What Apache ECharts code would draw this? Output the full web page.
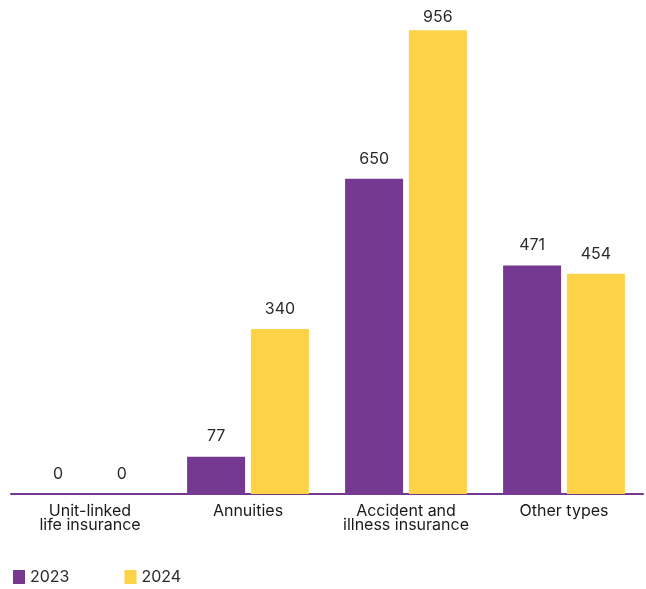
<!DOCTYPE html>
<html>
<head>
<meta charset="utf-8">
<script src="https://cdn.jsdelivr.net/npm/echarts@6/dist/echarts.min.js"></script>
<style>html,body{margin:0;padding:0;background:#fff}#c{width:646px;height:589px}</style>
</head>
<body>
<div id="c"></div>
<script>
const categories = ['Unit-linked\nlife insurance', 'Annuities', 'Accident and\nillness insurance', 'Other types'];
const seriesNames = ['2023', '2024'];
const values2023 = [0, 77, 650, 471];
const values2024 = [0, 340, 956, 454];
const colors = ['#753991', '#FDD247'];

const chart = echarts.init(document.getElementById('c'), null, {renderer: 'canvas'});
const font = 'Inter, sans-serif';
const maxVal = Math.max(...values2023, ...values2024);
const mk = (name, data, color) => ({
  name, type: 'bar', barWidth: 58, barGap: '10%',
  data: data.map(v => v === maxVal ? {value: v, label: {distance: 5}} : v),
  itemStyle: {color},
  label: {show: true, position: 'top', distance: 12, color: '#2b2b2b', fontSize: 16, fontFamily: font}
});
chart.setOption({
  animation: false,
  textStyle: {fontFamily: font},
  grid: {left: 11, right: 3, top: 9, bottom: 95, containLabel: false},
  legend: {
    left: 8, top: 564, itemWidth: 12, itemHeight: 14, itemGap: 55,
    icon: 'rect',
    textStyle: {fontSize: 16, color: '#2b2b2b', fontFamily: font},
    data: seriesNames
  },
  xAxis: {
    type: 'category', data: categories,
    axisLine: {lineStyle: {color: '#753991', width: 2}},
    axisTick: {show: false},
    axisLabel: {fontSize: 16, color: '#1a1a1a', lineHeight: 14, margin: 10, interval: 0, fontFamily: font}
  },
  yAxis: {type: 'value', min: 0, max: 1000, show: false, splitLine: {show: false}},
  series: [mk(seriesNames[0], values2023, colors[0]), mk(seriesNames[1], values2024, colors[1])]
});
</script>
</body>
</html>
